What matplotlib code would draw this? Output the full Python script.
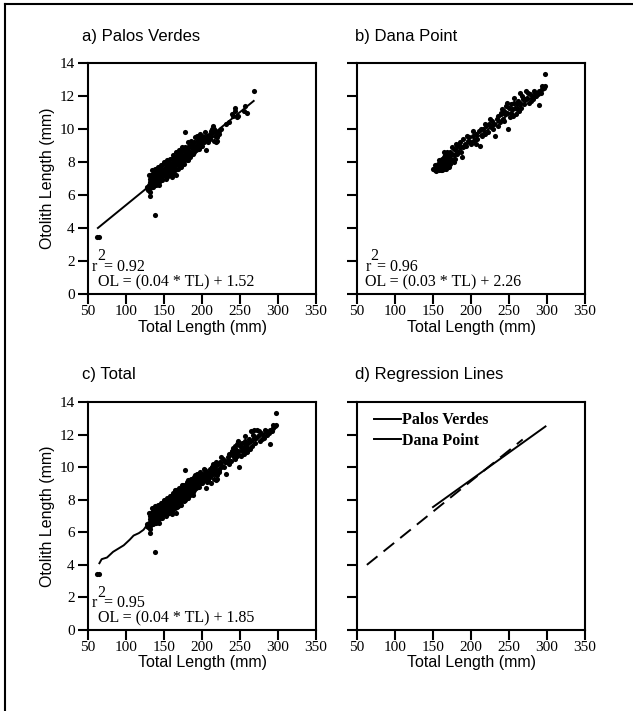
import matplotlib
matplotlib.use('Agg')
import matplotlib.pyplot as plt
from matplotlib.lines import Line2D

SANS = 'Liberation Sans'
SERIF = 'Liberation Serif'

# Palos Verdes: total length (mm), otolith length (mm)
pv_tl = [62, 64, 127, 128, 129, 130, 131, 131, 132, 132, 133, 133, 134, 134, 135, 135,
         136, 136, 137, 137, 138, 138, 138, 139, 139, 140, 140, 141, 141, 142, 142, 143,
         143, 144, 144, 145, 145, 146, 146, 147, 147, 148, 148, 149, 150, 150, 151, 152,
         152, 153, 154, 154, 155, 155, 156, 157, 157, 158, 159, 160, 160, 161, 162, 162,
         163, 164, 165, 165, 166, 167, 168, 168, 169, 170, 170, 171, 172, 173, 173, 174,
         175, 175, 176, 177, 178, 178, 179, 180, 180, 181, 182, 183, 183, 184, 185, 186,
         187, 188, 189, 190, 190, 191, 192, 193, 194, 195, 196, 197, 198, 199, 200, 201,
         202, 203, 204, 205, 206, 207, 208, 210, 211, 212, 213, 214, 215, 216, 217, 218,
         219, 220, 222, 225, 232, 236, 240, 241, 243, 244, 246, 248, 255, 257, 259, 268,
         130, 132, 134, 136, 138, 140, 142, 144, 146, 148, 150, 152, 154, 156, 158, 160,
         162, 164, 166, 168, 170, 172, 174, 176, 178, 180, 182, 184, 186, 188, 190, 192,
         194, 196, 198, 200, 204, 208, 212, 216, 220, 223, 166, 160]
pv_ol = [3.45, 3.45, 6.4, 6.5, 6.3, 6.6, 5.95, 6.2, 6.8, 7.0, 6.5, 7.2, 6.9, 6.6, 7.1, 6.7,
         7.3, 6.8, 7.0, 6.6, 4.8, 7.4, 6.9, 7.2, 6.7, 7.5, 7.0, 6.8, 7.3, 7.1, 6.9, 7.4,
         7.0, 7.2, 6.8, 7.6, 7.3, 7.0, 7.4, 7.2, 7.8, 7.5, 7.1, 7.3, 7.6, 7.2, 7.4, 7.8,
         7.3, 7.5, 7.1, 7.7, 7.4, 7.9, 7.6, 7.3, 8.0, 7.7, 7.5, 7.9, 7.6, 8.2, 7.7, 7.4,
         8.0, 7.8, 8.3, 7.9, 7.6, 8.1, 7.9, 8.4, 8.0, 8.2, 7.8, 8.5, 8.1, 7.9, 8.6, 8.3,
         8.0, 8.7, 8.4, 8.2, 9.8, 8.6, 8.3, 8.8, 8.5, 8.1, 8.7, 8.4, 9.0, 8.6, 8.9, 8.5,
         9.1, 8.8, 8.6, 9.2, 8.9, 9.5, 9.0, 8.8, 9.3, 9.1, 9.6, 9.2, 9.4, 9.0, 9.6, 9.3,
         9.5, 9.2, 9.4, 8.7, 9.6, 9.4, 9.5, 9.7, 9.4, 9.9, 10.0, 10.2, 9.8, 9.3, 9.6, 9.2,
         9.8, 9.5, 9.7, 10.0, 10.3, 10.4, 10.9, 10.8, 11.3, 11.1, 10.7, 10.8, 11.1, 11.4, 11.0, 12.3,
         7.2, 6.4, 7.5, 6.5, 7.6, 6.6, 7.7, 6.6, 7.8, 6.9, 8.0, 7.0, 8.1, 7.2, 8.2, 7.3,
         8.4, 7.5, 8.6, 7.6, 8.7, 7.7, 8.9, 7.9, 8.9, 8.1, 9.2, 8.3, 9.3, 8.5, 9.0, 8.7,
         9.6, 8.8, 9.7, 9.0, 9.8, 9.2, 9.6, 10.0, 9.3, 9.9, 7.2, 7.1]

# Dana Point
dp_tl = [150, 151, 153, 155, 156, 157, 158, 159, 160, 160, 161, 162, 163, 164, 164, 165,
         166, 166, 167, 168, 168, 169, 170, 170, 171, 172, 173, 174, 175, 176, 177, 178,
         179, 180, 181, 182, 183, 185, 186, 188, 189, 190, 192, 194, 196, 198, 200, 202,
         204, 206, 208, 210, 212, 214, 216, 218, 220, 222, 224, 226, 228, 230, 232, 234,
         236, 238, 240, 241, 242, 244, 245, 246, 248, 249, 250, 251, 252, 254, 255, 256,
         258, 259, 260, 262, 263, 264, 265, 266, 268, 270, 272, 274, 276, 278, 280, 282,
         284, 286, 289, 290, 292, 294, 296, 297, 297,
         152, 154, 158, 162, 165, 167, 169, 171, 173, 175, 178, 180, 184, 187, 191, 195,
         199, 203, 207, 213, 219, 225, 229, 235, 239, 243, 247, 253, 257, 261, 267, 271,
         275, 279, 283, 288, 293]
dp_ol = [7.55, 7.6, 7.5, 7.7, 7.9, 7.6, 8.1, 7.8, 7.5, 8.0, 7.7, 8.2, 7.9, 7.6, 8.3, 8.0,
         7.8, 8.4, 8.1, 7.7, 8.2, 7.9, 8.4, 8.0, 8.3, 7.9, 8.6, 8.2, 8.5, 8.1, 8.8, 8.4,
         8.2, 8.7, 8.5, 9.0, 8.6, 8.9, 9.2, 8.3, 8.9, 9.4, 9.1, 9.0, 9.3, 9.5, 9.1, 9.6,
         9.3, 9.7, 9.4, 9.9, 9.0, 9.6, 10.0, 10.3, 10.2, 9.8, 10.3, 10.1, 10.5, 10.3, 9.6, 10.6,
         10.8, 10.4, 11.0, 11.2, 10.6, 11.1, 10.9, 11.4, 11.0, 10.0, 11.3, 10.7, 11.5, 11.2, 10.8, 11.6,
         11.3, 10.9, 11.5, 11.7, 11.1, 12.2, 11.6, 11.3, 11.8, 11.5, 12.3, 11.9, 11.6, 12.1, 12.0, 11.8,
         12.2, 12.0, 11.45, 12.3, 12.2, 12.4, 12.5, 13.35, 12.6,
         7.8, 7.45, 7.5, 7.5, 8.6, 7.55, 8.6, 7.7, 8.1, 8.9, 8.0, 9.1, 9.1, 8.6, 9.0, 9.6,
         9.2, 9.9, 9.1, 10.0, 9.7, 10.6, 10.0, 10.2, 10.9, 10.5, 11.6, 11.0, 11.9, 11.2, 12.0, 11.8,
         12.2, 11.7, 12.3, 12.1, 12.6]

# fitted lines
pv_fit_tl = [63, 268]
pv_fit_ol = [4.0, 11.7]
dp_fit_tl = [150, 298]
dp_fit_ol = [7.55, 12.5]
tot_fit_tl = [65, 68, 75, 83, 90, 97, 105, 110, 117, 123, 127, 140, 160, 180, 200, 220, 240, 260, 280, 297]
tot_fit_ol = [4.1, 4.35, 4.45, 4.8, 5.0, 5.2, 5.55, 5.8, 5.95, 6.15, 6.4, 6.95, 7.7, 8.5, 9.25, 10.0, 10.7, 11.35, 12.0, 12.5]

all_tl = pv_tl + dp_tl
all_ol = pv_ol + dp_ol

fig = plt.figure(figsize=(6.33, 7.11), dpi=100)
W, H = 633, 711

def make_ax(left, top, width, height, ylabels):
    ax = fig.add_axes([left / W, 1 - (top + height) / H, width / W, height / H])
    ax.set_xlim(50, 350)
    ax.set_ylim(0, 14)
    ax.set_xticks(range(50, 351, 50))
    ax.set_yticks(range(0, 15, 2))
    for s in ax.spines.values():
        s.set_linewidth(1.5)
    ax.tick_params(direction='out', length=7.5, width=1.5, labelsize=11)
    ax.tick_params(axis='x', pad=0.5)
    ax.tick_params(axis='y', pad=2)
    for lab in ax.get_xticklabels() + ax.get_yticklabels():
        lab.set_fontfamily(SERIF)
    if ylabels:
        ax.set_ylabel('Otolith Length (mm)', fontfamily=SANS, fontsize=11.5, labelpad=3)
    else:
        ax.set_yticklabels([])
    ax.set_xlabel('Total Length (mm)', fontfamily=SANS, fontsize=11.5, labelpad=1)
    return ax

ax_a = make_ax(88, 63, 228, 231, True)
ax_b = make_ax(357, 63, 228, 231, False)
ax_c = make_ax(88, 402, 228, 228, True)
ax_d = make_ax(357, 402, 228, 228, False)

ms = 3.7
ax_a.plot(pv_fit_tl, pv_fit_ol, color='black', lw=1.4)
ax_a.plot(pv_tl, pv_ol, 'o', color='black', ms=ms, mew=0)
ax_b.plot(dp_fit_tl, dp_fit_ol, color='black', lw=1.4)
ax_b.plot(dp_tl, dp_ol, 'o', color='black', ms=ms, mew=0)
ax_c.plot(tot_fit_tl, tot_fit_ol, color='black', lw=1.4)
ax_c.plot(all_tl, all_ol, 'o', color='black', ms=ms, mew=0)

ax_d.plot(pv_fit_tl, pv_fit_ol, color='black', lw=1.4, dashes=(7, 4))
ax_d.plot(dp_fit_tl, dp_fit_ol, color='black', lw=1.4)
handles = [Line2D([], [], color='black', lw=1.4), Line2D([], [], color='black', lw=1.4)]
ax_d.legend(handles, ['Palos Verdes', 'Dana Point'], loc='upper left', frameon=False,
            bbox_to_anchor=(0.075, 0.955), borderaxespad=0, borderpad=0, handlelength=1.7,
            handletextpad=0.05, labelspacing=0.3,
            prop={'family': SERIF, 'weight': 'bold', 'size': 11.5})

stats = [(ax_a, 0.018, 0.044, '0.92', '(0.04 * TL) + 1.52'),
         (ax_b, 0.036, 0.036, '0.96', '(0.03 * TL) + 2.26'),
         (ax_c, 0.018, 0.044, '0.95', '(0.04 * TL) + 1.85')]
for ax, xr, xo, r2, eq in stats:
    kw = dict(fontfamily=SERIF, fontsize=11.5, va='center', ha='left')
    ax.text(xr, 0.118, 'r', transform=ax.transAxes, **kw)
    ax.annotate('2', (xr, 0.118), xycoords='axes fraction', xytext=(3.4, 7.5),
                textcoords='offset points', **kw)
    ax.annotate('= ' + r2, (xr, 0.118), xycoords='axes fraction', xytext=(8.5, 0),
                textcoords='offset points', **kw)
    ax.text(xo, 0.052, 'OL = ' + eq, transform=ax.transAxes, **kw)

titles = [(82, 37, 'a) Palos Verdes'), (355, 37, 'b) Dana Point'),
          (82, 375, 'c) Total'), (355, 375, 'd) Regression Lines')]
for x, y, t in titles:
    fig.text(x / W, 1 - y / H, t, fontfamily=SANS, fontsize=12, va='center', ha='left')

# page frame (left and top edges only)
fig.add_artist(Line2D([5 / W, 5 / W], [0, 1 - 4 / H], color='black', lw=1.5))
fig.add_artist(Line2D([5 / W, 1], [1 - 4 / H, 1 - 4 / H], color='black', lw=1.5))

fig.savefig('out.png', dpi=100)
